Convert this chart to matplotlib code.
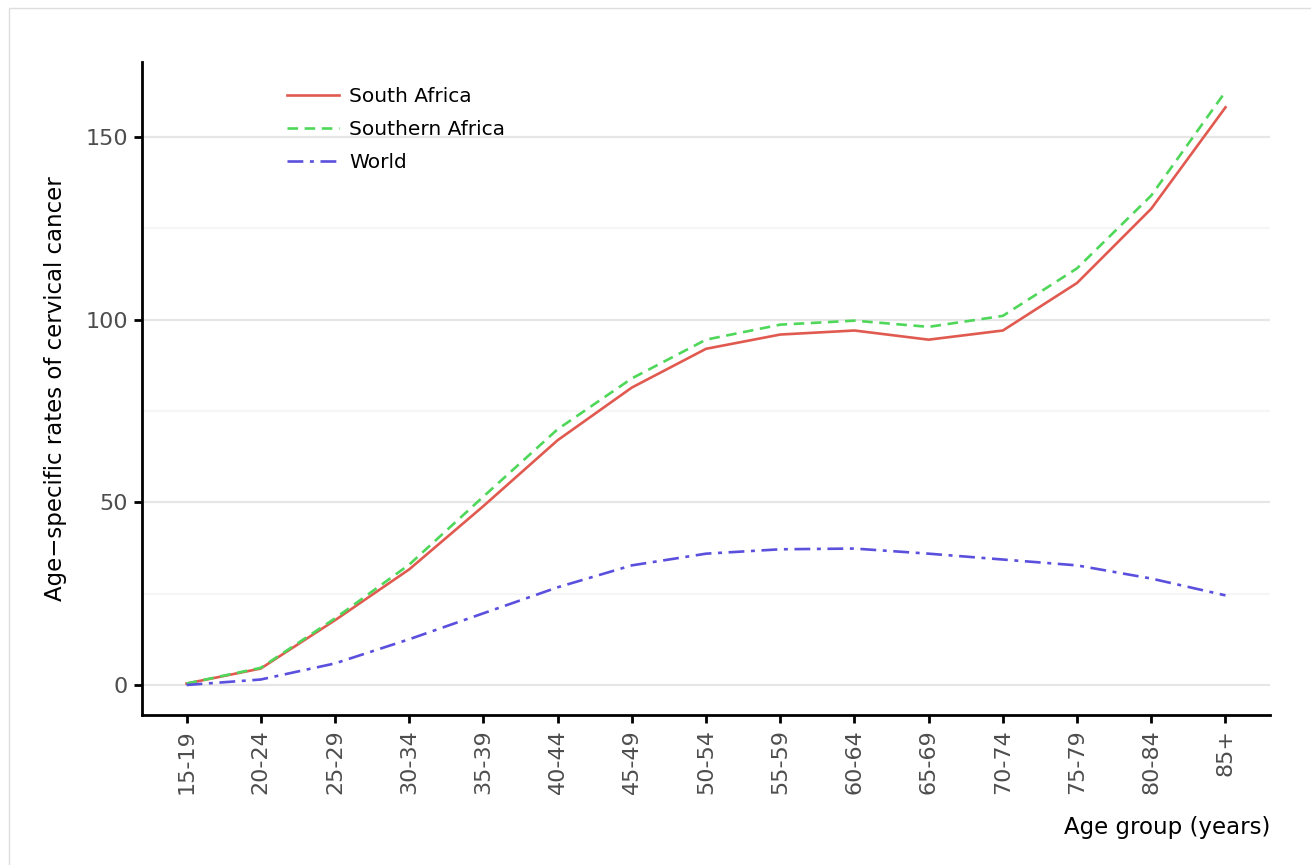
import matplotlib
matplotlib.use("Agg")
import matplotlib.pyplot as plt
import matplotlib.patches as patches
import numpy as np

# Data
age_groups = ["15-19", "20-24", "25-29", "30-34", "35-39", "40-44", "45-49",
              "50-54", "55-59", "60-64", "65-69", "70-74", "75-79", "80-84", "85+"]

south_africa = [0.5, 4.6, 17.8, 31.7, 49.0, 67.0, 81.4, 92.0, 95.9, 97.0,
                94.5, 97.0, 110.0, 130.3, 158.0]
southern_africa = [0.5, 4.8, 18.3, 33.0, 51.6, 70.0, 83.9, 94.5, 98.6, 99.7,
                   98.0, 101.0, 114.0, 133.9, 162.3]
world = [0.1, 1.6, 6.0, 12.6, 19.7, 26.8, 32.8, 36.0, 37.2, 37.4,
         36.0, 34.4, 32.8, 29.2, 24.6]

series_names = ["South Africa", "Southern Africa", "World"]
series_colors = ["#e05a50", "#4fd75a", "#5b50de"]

W, H = 1311, 865
fig = plt.figure(figsize=(W / 100, H / 100), dpi=100)

# light frame around the plot area (as in the reference)
fig.patches.append(patches.Rectangle((9 / W, -0.01), 1.0, 1 - 8 / H + 0.01,
                                     transform=fig.transFigure, fill=False,
                                     edgecolor="#dedede", linewidth=1.0))

ax = fig.add_axes([142 / W, 1 - 715 / H, (1270 - 142) / W, (715 - 62) / H])

x = np.arange(len(age_groups))
ax.plot(x, south_africa, color=series_colors[0], lw=1.9, ls="-", label=series_names[0])
ax.plot(x, southern_africa, color=series_colors[1], lw=1.9, ls=(0, (4, 2.5)), label=series_names[1])
ax.plot(x, world, color=series_colors[2], lw=1.9, ls=(0, (6, 2.5, 1.5, 2.5)), label=series_names[2])

ax.set_xlim(-0.6, len(age_groups) - 1 + 0.6)
ax.set_ylim(-8.1, 170.4)

ax.set_xticks(x)
ax.set_xticklabels(age_groups, rotation=90)
ax.set_yticks([0, 50, 100, 150])
ax.set_yticks([25, 75, 125], minor=True)

ax.grid(axis="y", which="major", color="#e6e6e6", lw=1.6)
ax.grid(axis="y", which="minor", color="#f6f6f6", lw=1.6)
ax.set_axisbelow(True)

for side in ["top", "right"]:
    ax.spines[side].set_visible(False)
for side in ["left", "bottom"]:
    ax.spines[side].set_linewidth(2.0)
    ax.spines[side].set_color("black")

ax.tick_params(axis="both", which="major", length=6, width=2.0, color="black",
               labelsize=16, labelcolor="#4d4d4d", pad=4)
ax.tick_params(axis="y", which="minor", length=0)

ax.set_xlabel("Age group (years)", fontsize=16.5, loc="right", labelpad=16)
ax.set_ylabel("Age\u2212specific rates of cervical cancer", fontsize=16.5, labelpad=13)

leg = ax.legend(loc="upper left", bbox_to_anchor=(287 / W, 1 - 87 / H),
                bbox_transform=fig.transFigure, frameon=False, fontsize=14.5,
                handlelength=2.6, handletextpad=0.5, labelspacing=0.7,
                borderaxespad=0, borderpad=0)

fig.savefig("out.png", dpi=100, facecolor="white")
